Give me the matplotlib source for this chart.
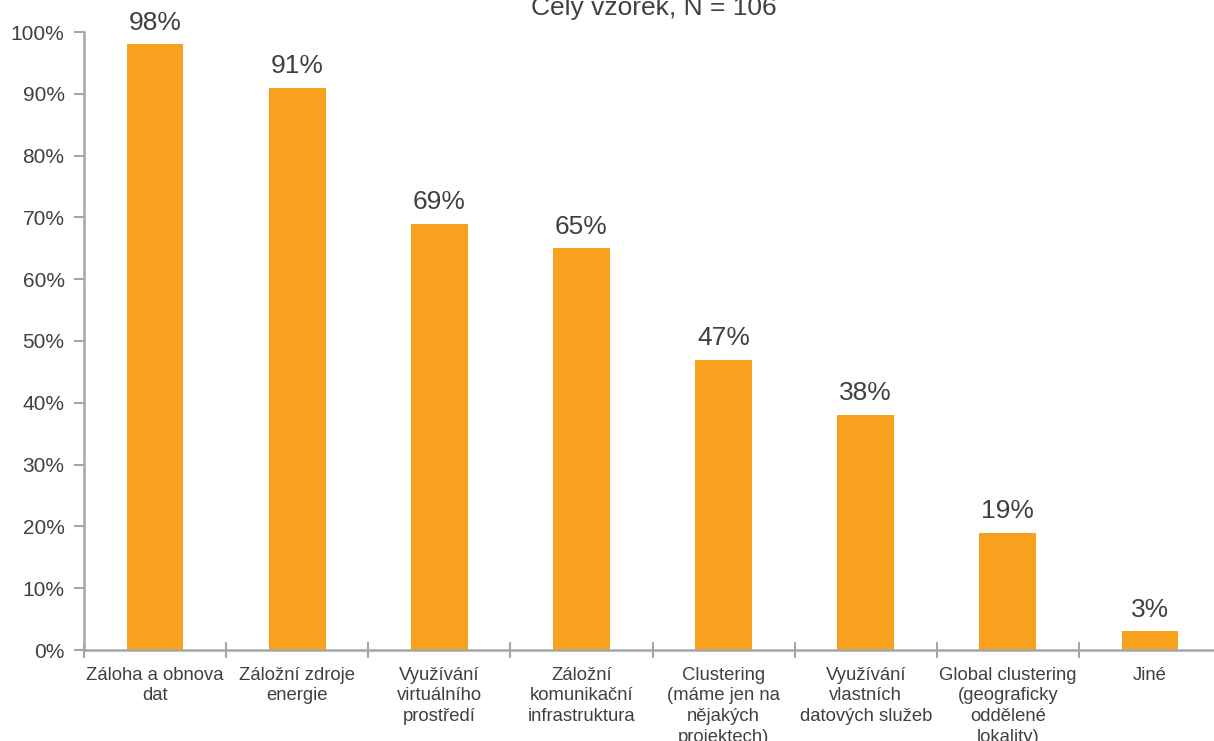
import matplotlib.pyplot as plt
import numpy as np

plt.rcParams['font.family'] = ['Liberation Sans', 'DejaVu Sans']

categories = ["Záloha a obnova\ndat", "Záložní zdroje\nenergie", "Využívání\nvirtuálního\nprostředí",
              "Záložní\nkomunikační\ninfrastruktura", "Clustering\n(máme jen na\nnějakých\nprojektech)",
              "Využívání\nvlastních\ndatových služeb", "Global clustering\n(geograficky\noddělené\nlokality)",
              "Jiné"]
values = [98, 91, 69, 65, 47, 38, 19, 3]
title = "Celý vzorek, N = 106"

bar_color = "#F7A11F"
text_color = "#404040"
axis_color = "#A6A6A6"

fig = plt.figure(figsize=(12.14, 7.41), dpi=100)
ax = fig.add_axes([84 / 1214, 1 - 650 / 741, 1137 / 1214, 618 / 741])

x = np.arange(len(values))
bars = ax.bar(x, values, width=0.4, color=bar_color)
for xi, v in zip(x, values):
    ax.annotate(f"{v}%", (xi, v), xytext=(0, 7), textcoords="offset points",
                ha="center", va="bottom", fontsize=19, color=text_color)

ax.set_xlim(-0.5, len(values) - 0.5)
ax.set_ylim(0, 100)
ax.set_yticks(range(0, 101, 10))
ax.set_yticklabels([f"{t}%" for t in range(0, 101, 10)])
ax.tick_params(axis="y", labelsize=15, colors=axis_color, labelcolor=text_color,
               length=7, width=1.5, pad=7)

ax.set_xticks(x)
ax.set_xticklabels(categories, fontsize=13.3, color=text_color, linespacing=1.28, va="top")
ax.tick_params(axis="x", which="major", length=0, pad=12)
ax.set_xticks(np.arange(len(values)) - 0.5, minor=True)
ax.tick_params(axis="x", which="minor", direction="inout", length=11, width=1.5, colors=axis_color)

for s in ["top", "right"]:
    ax.spines[s].set_visible(False)
for s in ["left", "bottom"]:
    ax.spines[s].set_color(axis_color)
    ax.spines[s].set_linewidth(1.8)
ax.spines["bottom"].set_clip_on(False)

fig.text(654 / 1214, 1 - 15 / 741, title, ha="center", va="baseline", fontsize=19, color=text_color)

fig.savefig("out.png", dpi=100)
